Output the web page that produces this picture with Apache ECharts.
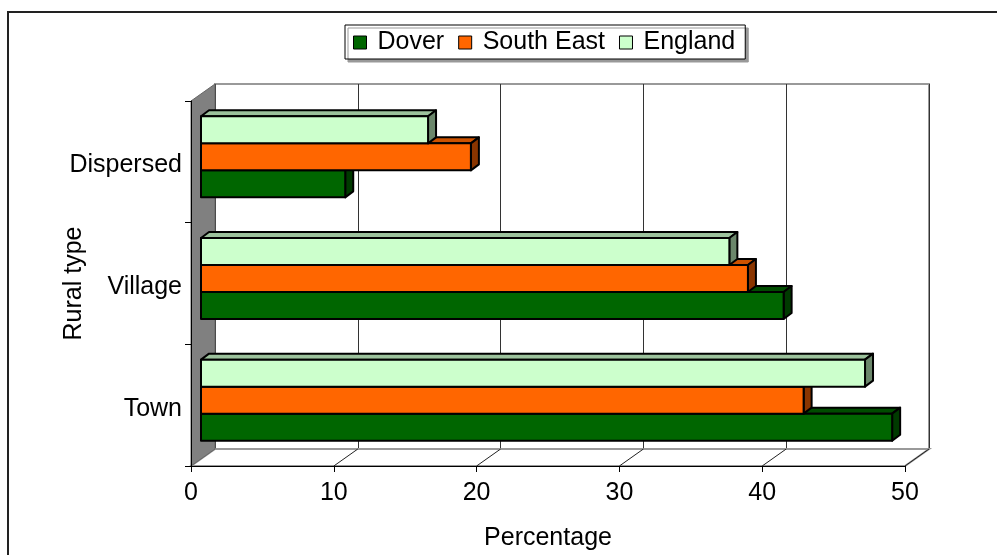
<!DOCTYPE html>
<html>
<head>
<meta charset="utf-8">
<script src="https://cdn.jsdelivr.net/npm/echarts@6/dist/echarts.min.js"></script>
<style>
  html, body { margin: 0; padding: 0; background: #fff; }
  #chart { width: 997px; height: 555px; }
</style>
</head>
<body>
<div id="chart"></div>
<script>
// ---- data ----
const categories = ['Town', 'Village', 'Dispersed'];
const dover = [48.4, 40.8, 10.1];
const southEast = [42.2, 38.3, 18.9];
const england = [46.5, 37.0, 15.9];
const seriesNames = ['Dover', 'South East', 'England'];
const xName = 'Percentage';
const yName = 'Rural type';
const xMin = 0, xMax = 50, xStep = 10;

// ---- layout / style ----
const FONT = 'Liberation Sans, Arial, sans-serif';
const FRONT = { left: 191, top: 101, width: 714, height: 365 };
const WALL = { dx: 24, dy: -17 };      // depth of the whole plot box
const BARPLANE = { dx: 10, dy: -5 };   // where bar fronts sit
const BARDEPTH = { dx: 8, dy: -6 };    // 3D thickness of a bar
const BAR_FRAC = 0.222;                // bar height / category band
const palette = [
  { front: '#006600', top: '#004c00', side: '#003a00' },
  { front: '#ff6600', top: '#cc5200', side: '#8a3500' },
  { front: '#ccffcc', top: '#9cc29c', side: '#6b876b' }
];

function makeRender(slot) {
  const c = palette[slot];
  return function (params, api) {
    const v = api.value(0), cat = api.value(1);
    const p0 = api.coord([0, cat]);
    const p1 = api.coord([v, cat]);
    const band = api.size([0, 1])[1];
    const bh = band * BAR_FRAC;
    const yTop = p0[1] + 1.5 * bh - (slot + 1) * bh;
    const x0 = p0[0], x1 = p1[0];
    const dx = BARDEPTH.dx, dy = BARDEPTH.dy;
    const st = (f) => ({ fill: f, stroke: '#000', lineWidth: 2, lineJoin: 'round' });
    return {
      type: 'group',
      children: [
        { type: 'polygon', shape: { points: [[x0, yTop], [x0 + dx, yTop + dy], [x1 + dx, yTop + dy], [x1, yTop]] }, style: st(c.top) },
        { type: 'polygon', shape: { points: [[x1, yTop], [x1 + dx, yTop + dy], [x1 + dx, yTop + bh + dy], [x1, yTop + bh]] }, style: st(c.side) },
        { type: 'rect', shape: { x: x0, y: yTop, width: x1 - x0, height: bh }, style: st(c.front) }
      ]
    };
  };
}

const seriesData = [dover, southEast, england];

// decoration geometry (walls, floor)
const fx0 = FRONT.left, fx1 = FRONT.left + FRONT.width;
const fy0 = FRONT.top, fy1 = FRONT.top + FRONT.height;
const bx0 = fx0 + WALL.dx, bx1 = fx1 + WALL.dx;
const by0 = fy0 + WALL.dy, by1 = fy1 + WALL.dy;
const graphics = [
  { type: 'rect', shape: { x: 8, y: 12, width: 1100, height: 700 }, style: { fill: 'none', stroke: '#222', lineWidth: 2 }, z: 0, silent: true },
  // floor
  { type: 'polygon', shape: { points: [[fx0, fy1], [bx0, by1], [bx1, by1], [fx1, fy1]] }, style: { fill: '#fff', stroke: '#999', lineWidth: 2 }, z: 1 },
  // left wall
  { type: 'polygon', shape: { points: [[fx0, fy0], [bx0, by0], [bx0, by1], [fx0, fy1]] }, style: { fill: '#808080', stroke: '#666', lineWidth: 1 }, z: 1 },
  // x axis title
  { type: 'text', x: fx0 + FRONT.width / 2, y: fy1 + 72, z: 5,
    style: { text: xName, fontSize: 25, fontFamily: FONT, fill: '#000', align: 'center', verticalAlign: 'middle' } }
];
for (let v = xMin + xStep; v <= xMax; v += xStep) {
  const t = (v - xMin) / (xMax - xMin);
  graphics.push({ type: 'line', shape: { x1: fx0 + t * FRONT.width, y1: fy1, x2: bx0 + t * FRONT.width, y2: by1 }, style: { stroke: '#222', lineWidth: 1 }, z: 1 });
}

const chart = echarts.init(document.getElementById('chart'));
chart.setOption({
  animation: false,
  backgroundColor: '#fff',
  textStyle: { fontFamily: FONT },
  legend: {
    left: 345, top: 25,
    data: seriesNames.map((n, i) => ({ name: n, icon: 'rect', itemStyle: { color: palette[i].front, borderColor: '#000', borderWidth: 1 } })),
    itemWidth: 13, itemHeight: 13, itemGap: 14,
    padding: [5, 10, 4, 8],
    borderColor: '#000', borderWidth: 1,
    backgroundColor: '#fff',
    shadowColor: '#999', shadowOffsetX: 3, shadowOffsetY: 3, shadowBlur: 0,
    textStyle: { fontSize: 25, color: '#000', fontFamily: FONT, padding: [2, 0, 0, 6] }
  },
  grid: [
    { left: FRONT.left, top: FRONT.top, width: FRONT.width, height: FRONT.height, containLabel: false, outerBoundsMode: 'none' },
    { left: bx0, top: by0, width: FRONT.width, height: FRONT.height, show: true, backgroundColor: '#fff', borderColor: '#999', borderWidth: 2, outerBoundsMode: 'none' },
    { left: FRONT.left + BARPLANE.dx, top: FRONT.top + BARPLANE.dy, width: FRONT.width, height: FRONT.height, outerBoundsMode: 'none' }
  ],
  xAxis: [
    { gridIndex: 0, type: 'value', min: xMin, max: xMax, interval: xStep, z: 10,
      axisLine: { show: true, lineStyle: { color: '#000', width: 1 } },
      axisTick: { show: true, length: 6, lineStyle: { color: '#000' } },
      axisLabel: { fontSize: 25, color: '#000', margin: 15, fontFamily: FONT },
      splitLine: { show: false } },
    { gridIndex: 1, type: 'value', min: xMin, max: xMax, interval: xStep,
      axisLine: { show: false }, axisTick: { show: false }, axisLabel: { show: false },
      splitLine: { show: true, lineStyle: { color: '#333', width: 1 } } },
    { gridIndex: 2, type: 'value', min: xMin, max: xMax, show: false }
  ],
  yAxis: [
    { gridIndex: 0, type: 'category', data: categories, z: 10,
      name: yName, nameLocation: 'middle', nameGap: 104, nameRotate: 90, nameMoveOverlap: false,
      nameTextStyle: { fontSize: 25, color: '#000', fontFamily: FONT },
      axisLine: { show: true, lineStyle: { color: '#000', width: 1 } },
      axisTick: { show: true, length: 6, alignWithLabel: false, lineStyle: { color: '#000' } },
      axisLabel: { fontSize: 25, color: '#000', margin: 9, fontFamily: FONT, lineHeight: 7, verticalAlign: 'top' },
      splitLine: { show: false } },
    { gridIndex: 1, type: 'category', data: categories, show: false },
    { gridIndex: 2, type: 'category', data: categories, show: false }
  ],
  graphic: { elements: graphics },
  series: seriesNames.map((n, i) => ({
    name: n,
    type: 'custom',
    xAxisIndex: 2, yAxisIndex: 2,
    z: 20,
    itemStyle: { color: palette[i].front, borderColor: '#000' },
    renderItem: makeRender(i),
    encode: { x: 0, y: 1 },
    data: categories.map((c, k) => [seriesData[i][k], k])
  }))
});
</script>
</body>
</html>
